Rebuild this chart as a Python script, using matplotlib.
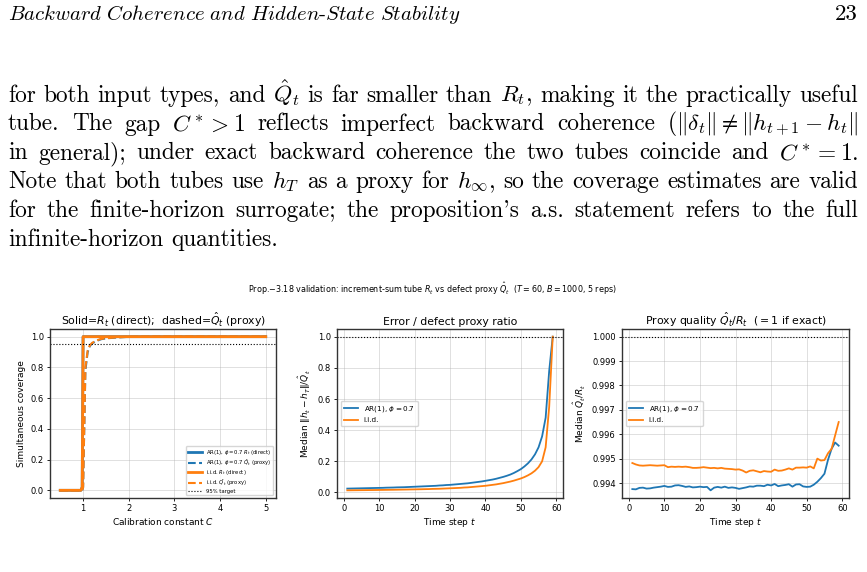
import matplotlib
matplotlib.use("Agg")
import matplotlib.pyplot as plt
from matplotlib.ticker import FormatStrFormatter

W, H = 867, 572

# panel 1: coverage vs calibration constant
C_vals = [0.5, 0.6, 0.7, 0.8, 0.9, 0.95, 0.98, 1.0, 1.05, 1.1, 1.15, 1.2, 1.3, 1.4,
          1.5, 1.75, 2.0, 2.5, 3.0, 3.5, 4.0, 4.5, 5.0]
ar_direct = [0, 0, 0, 0, 0, 0.0, 0.02, 1.0, 1, 1, 1, 1, 1, 1, 1, 1, 1, 1, 1, 1, 1, 1, 1]
ar_proxy = [0, 0, 0, 0, 0, 0, 0, 0.02, 0.78, 0.9, 0.94, 0.957, 0.973, 0.984, 0.989,
            0.995, 0.999, 1, 1, 1, 1, 1, 1]
iid_direct = [0, 0, 0, 0, 0, 0.0, 0.02, 1.0, 1, 1, 1, 1, 1, 1, 1, 1, 1, 1, 1, 1, 1, 1, 1]
iid_proxy = [0, 0, 0, 0, 0, 0, 0, 0.02, 0.80, 0.91, 0.945, 0.96, 0.976, 0.986, 0.99,
             0.996, 0.999, 1, 1, 1, 1, 1, 1]

# panels 2 and 3: t = 1..59
t_vals = list(range(1, 60))
ratio_ar = [0.025, 0.0255, 0.026, 0.0265, 0.027, 0.0275, 0.028, 0.0285, 0.029, 0.0295,
            0.030, 0.031, 0.0315, 0.032, 0.033, 0.0335, 0.034, 0.035, 0.036, 0.037,
            0.038, 0.039, 0.040, 0.041, 0.042, 0.043, 0.045, 0.046, 0.048, 0.049,
            0.051, 0.053, 0.055, 0.057, 0.059, 0.062, 0.065, 0.068, 0.071, 0.075,
            0.079, 0.083, 0.088, 0.094, 0.100, 0.107, 0.115, 0.125, 0.137, 0.150,
            0.167, 0.187, 0.212, 0.245, 0.29, 0.36, 0.48, 0.78, 1.0]
ratio_iid = [0.014, 0.0142, 0.0145, 0.0147, 0.015, 0.0152, 0.0155, 0.0157, 0.016, 0.0163,
             0.0166, 0.017, 0.0173, 0.0176, 0.018, 0.0184, 0.0188, 0.0192, 0.0197, 0.020,
             0.0206, 0.021, 0.0216, 0.022, 0.023, 0.0235, 0.024, 0.025, 0.026, 0.027,
             0.028, 0.029, 0.030, 0.032, 0.033, 0.035, 0.037, 0.039, 0.041, 0.043,
             0.046, 0.049, 0.052, 0.056, 0.060, 0.065, 0.070, 0.076, 0.083, 0.090,
             0.099, 0.110, 0.123, 0.140, 0.163, 0.20, 0.29, 0.55, 1.0]
qual_ar = [0.99375, 0.99374, 0.99380, 0.99381, 0.99377, 0.99378, 0.99381, 0.99383, 0.99385, 0.99388,
           0.99384, 0.99385, 0.99390, 0.99391, 0.99388, 0.99384, 0.99386, 0.99382, 0.99383, 0.99385,
           0.99383, 0.99384, 0.99370, 0.99381, 0.99384, 0.99381, 0.99385, 0.99380, 0.99382, 0.99380,
           0.99376, 0.99379, 0.99382, 0.99386, 0.99385, 0.99389, 0.99389, 0.99387, 0.99393, 0.99390,
           0.99396, 0.99387, 0.99390, 0.99392, 0.99395, 0.99385, 0.99394, 0.99395, 0.99386, 0.99384,
           0.99385, 0.99393, 0.99405, 0.99420, 0.99438, 0.99495, 0.99540, 0.99566, 0.99553]
qual_iid = [0.99482, 0.99476, 0.99472, 0.99471, 0.99472, 0.99473, 0.99472, 0.99471, 0.99472, 0.99473,
            0.99465, 0.99467, 0.99466, 0.99467, 0.99466, 0.99467, 0.99465, 0.99462, 0.99462, 0.99463,
            0.99465, 0.99463, 0.99461, 0.99462, 0.99460, 0.99462, 0.99459, 0.99458, 0.99457, 0.99455,
            0.99456, 0.99451, 0.99443, 0.99450, 0.99452, 0.99448, 0.99444, 0.99449, 0.99447, 0.99446,
            0.99455, 0.99450, 0.99451, 0.99455, 0.99460, 0.99455, 0.99463, 0.99463, 0.99464, 0.99463,
            0.99468, 0.99460, 0.99500, 0.99492, 0.99494, 0.99522, 0.99540, 0.99595, 0.99650]

blue = "#1f77b4"
orange = "#ff7f0e"

fig = plt.figure(figsize=(W / 100, H / 100), dpi=100)


def px_axes(x0, x1, y0, y1):
    return fig.add_axes([x0 / W, 1 - y1 / H, (x1 - x0) / W, (y1 - y0) / H])


def style(ax):
    ax.grid(True, color="#b0b0b0", lw=0.6, alpha=0.45)
    ax.tick_params(labelsize=6, length=2.5, width=0.6, pad=2)
    for s in ax.spines.values():
        s.set_color("#333333")
        s.set_linewidth(1.0)


# page text
def justify(words, ybase, x0=8, x1=858, size=16.8, last=False):
    texts = [fig.text(0, 1 - ybase / H, w, fontsize=size, fontfamily="cmr10",
                      math_fontfamily="cm", va="baseline") for w in words]
    r = fig.canvas.get_renderer()
    widths = [t.get_window_extent(r).width for t in texts]
    if last:
        gap = size * 100 / 72 * 0.333
    else:
        gap = (x1 - x0 - sum(widths)) / (len(words) - 1)
    x = x0
    for t, w in zip(texts, widths):
        t.set_x(x / W)
        x += w + gap


fig.text(8 / W, 1 - 19.5 / H,
         r"$\mathit{Backward\ Coherence\ and\ Hidden}$-$\mathit{State\ Stability}$",
         fontsize=15, fontfamily="cmr10", math_fontfamily="cm", va="baseline")
fig.text(858 / W, 1 - 19.5 / H, "23", fontsize=16.5, fontfamily="cmr10", ha="right", va="baseline")

lines = [
    ["for", "both", "input", "types,", "and", r"$\hat{Q}_t$", "is", "far", "smaller", "than",
     r"$R_t$,", "making", "it", "the", "practically", "useful"],
    ["tube.", "The", "gap", r"$C^* > 1$", "reflects", "imperfect", "backward", "coherence",
     r"$(\|\delta_t\| \neq \|h_{t+1} - h_t\|$"],
    ["in", "general);", "under", "exact", "backward", "coherence", "the", "two", "tubes",
     "coincide", "and", r"$C^* = 1$."],
    ["Note", "that", "both", "tubes", "use", r"$h_T$", "as", "a", "proxy", "for", r"$h_\infty$,",
     "so", "the", "coverage", "estimates", "are", "valid"],
    ["for", "the", "finite-horizon", "surrogate;", "the", "proposition's", "a.s.", "statement",
     "refers", "to", "the", "full"],
    ["infinite-horizon", "quantities."],
]
bases = [101.5, 130.5, 159.3, 188.2, 217.0, 245.8]
for i, (ws, yb) in enumerate(zip(lines, bases)):
    justify(ws, yb, last=(i == len(lines) - 1))

fig.text(432 / W, 1 - 289 / H,
         "Prop.\u22123.18 validation: increment-sum tube $R_t$ vs defect proxy $\\hat{Q}_t$  "
         "($T=60$, $B=1000$, 5 reps)", fontsize=5.8, ha="center", va="center")

# panel 1
ax1 = px_axes(50, 276, 329, 498)
ax1.plot(C_vals, ar_direct, color=blue, lw=2, label=r"AR(1), $\phi=0.7$ $R_t$ (direct)")
ax1.plot(C_vals, ar_proxy, color=blue, lw=1.5, ls="--", label=r"AR(1), $\phi=0.7$ $\hat{Q}_t$ (proxy)")
ax1.plot(C_vals, iid_direct, color=orange, lw=2, label=r"i.i.d. $R_t$ (direct)")
ax1.plot(C_vals, iid_proxy, color=orange, lw=1.5, ls="--", label=r"i.i.d. $\hat{Q}_t$ (proxy)")
ax1.axhline(0.95, color="black", ls=":", lw=0.8, label="95% target")
ax1.set_xlabel("Calibration constant $C$", fontsize=6.5, labelpad=2)
ax1.set_ylabel("Simultaneous coverage", fontsize=6.5, labelpad=3)
ax1.set_title(r"Solid=$R_t$ (direct);  dashed=$\hat{Q}_t$ (proxy)", fontsize=7.8, pad=3)
ax1.legend(loc="lower right", fontsize=3.8, handlelength=2.6, labelspacing=0.08,
           borderpad=0.35, handleheight=0.4)
style(ax1)

# panel 2
ax2 = px_axes(337, 563, 329, 498)
ax2.plot(t_vals, ratio_ar, color=blue, lw=1.3, label=r"AR(1), $\phi=0.7$")
ax2.plot(t_vals, ratio_iid, color=orange, lw=1.3, label="i.i.d.")
ax2.axhline(1.0, color="black", ls=":", lw=0.8)
ax2.set_xlabel("Time step $t$", fontsize=6.5, labelpad=2)
ax2.set_ylabel(r"Median $\|h_t - h_T\|/\hat{Q}_t$", fontsize=6.5, labelpad=3)
ax2.set_title("Error / defect proxy ratio", fontsize=7.8, pad=3)
ax2.legend(loc="center left", fontsize=5.2)
style(ax2)

# panel 3
ax3 = px_axes(622, 849, 329, 498)
ax3.plot(t_vals, qual_ar, color=blue, lw=1.3, label=r"AR(1), $\phi=0.7$")
ax3.plot(t_vals, qual_iid, color=orange, lw=1.3, label="i.i.d.")
ax3.axhline(1.0, color="black", ls=":", lw=0.8)
ax3.yaxis.set_major_formatter(FormatStrFormatter("%.3f"))
ax3.set_xlabel("Time step $t$", fontsize=6.5, labelpad=2)
ax3.set_ylabel(r"Median $\hat{Q}_t/R_t$", fontsize=6.5, labelpad=3)
ax3.set_title(r"Proxy quality $\hat{Q}_t/R_t$  $(=1$ if exact$)$", fontsize=7.8, pad=3)
ax3.legend(loc="center left", fontsize=5.2)
style(ax3)

fig.savefig("out.png", dpi=100)
